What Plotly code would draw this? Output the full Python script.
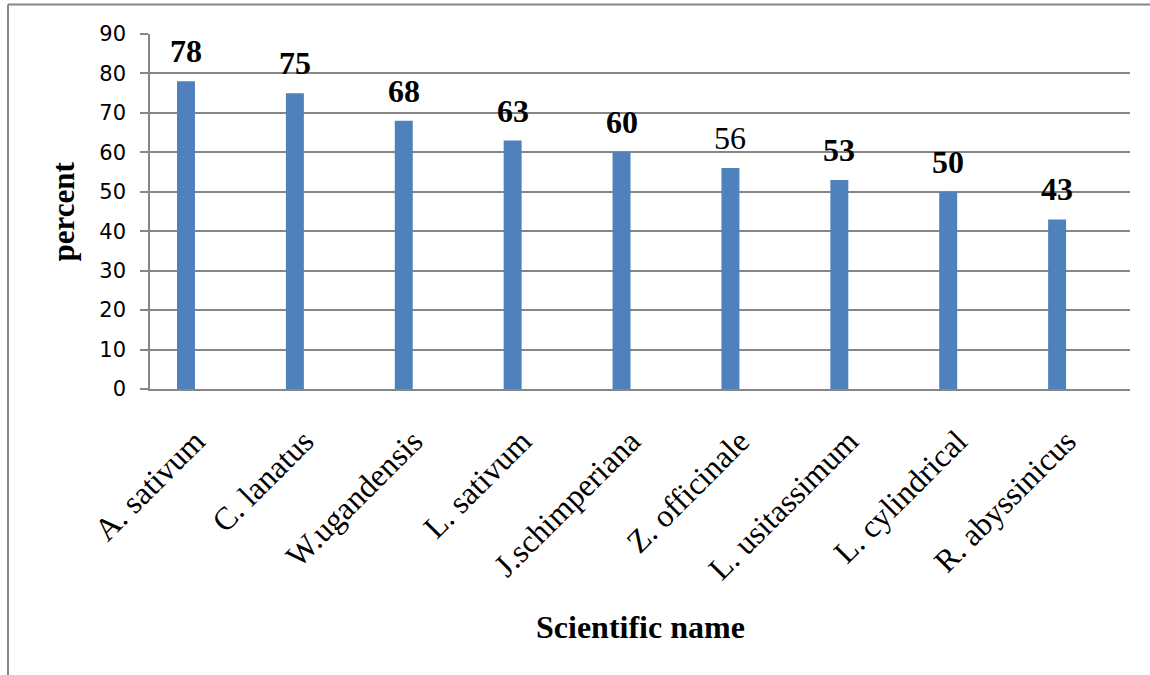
import plotly.graph_objects as go

categories = ["A. sativum", "C. lanatus", "W.ugandensis", "L. sativum", "J.schimperiana",
              "Z. officinale", "L. usitassimum", "L. cylindrical", "R. abyssinicus"]
values = [78, 75, 68, 63, 60, 56, 53, 50, 43]
label_bold = [True, True, True, True, True, False, True, True, True]

W, H = 1150, 675
L, R, T, B = 150, 20, 34, 286
pw, ph = W - L - R, H - T - B

fig = go.Figure()
fig.add_trace(go.Bar(
    x=categories, y=values,
    marker=dict(color="#4F81BD", line=dict(width=0)),
    width=0.165, offset=-0.252,
    showlegend=False,
))

serif = "Liberation Serif, Times New Roman, serif"
for c, v, b in zip(categories, values, label_bold):
    fig.add_annotation(
        x=c, y=v, xref="x", yref="y", text=f"<b>{v}</b>" if b else str(v),
        showarrow=False, xanchor="center", yanchor="bottom",
        xshift=-18.5, yshift=10,
        font=dict(family=serif, size=32, color="black"),
    )

fig.add_annotation(
    x=(63 - L) / pw, y=0.5, xref="paper", yref="paper", text="<b>percent</b>",
    showarrow=False, textangle=-90, xanchor="center", yanchor="middle",
    font=dict(family=serif, size=31, color="black"),
)
fig.add_annotation(
    x=(640 - L) / pw, y=(T + ph - 627) / ph, xref="paper", yref="paper",
    text="<b>Scientific name</b>",
    showarrow=False, xanchor="center", yanchor="middle",
    font=dict(family=serif, size=32, color="black"),
)

# outer frame lines (top and left)
fig.add_shape(type="line", xref="paper", yref="paper",
              x0=(8 - L) / pw, x1=(W - L) / pw + 0.01,
              y0=(T + ph - 4.5) / ph, y1=(T + ph - 4.5) / ph,
              line=dict(color="#868686", width=2))
fig.add_shape(type="line", xref="paper", yref="paper",
              x0=(8 - L) / pw, x1=(8 - L) / pw,
              y0=(T + ph - 4.5) / ph, y1=(T + ph - H - 5) / ph,
              line=dict(color="#868686", width=2))

fig.update_layout(
    width=W, height=H,
    margin=dict(l=L, r=R, t=T, b=B, autoexpand=False),
    paper_bgcolor="white", plot_bgcolor="white",
    xaxis=dict(
        type="category", showgrid=False, showline=True, linecolor="#868686", linewidth=1.5,
        ticks="", tickangle=-45, ticklabelstandoff=19, ticklabelshift=-9,
        tickfont=dict(family=serif, size=32, color="black"),
        automargin=False, range=[-0.5, len(categories) - 0.5],
    ),
    yaxis=dict(
        range=[0, 90], dtick=10, showgrid=True, gridcolor="#868686", gridwidth=1.5,
        showline=True, linecolor="#868686", linewidth=1.5,
        ticks="outside", ticklen=8, tickcolor="#868686", tickwidth=1.5,
        tickfont=dict(family="DejaVu Sans, Liberation Sans, sans-serif", size=21, color="black"),
        ticklabelstandoff=10, zeroline=False, automargin=False,
    ),
)

fig.write_html("out.html", config={"displayModeBar": False},
               post_script="document.body.style.margin='0';document.body.style.overflow='hidden';")
